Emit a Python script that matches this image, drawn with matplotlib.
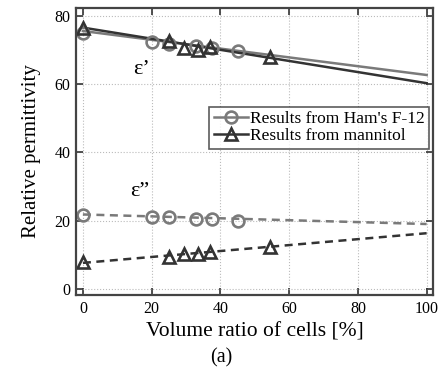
import matplotlib.pyplot as plt
from matplotlib.lines import Line2D

plt.rcParams["font.family"] = ["Liberation Serif", "DejaVu Serif"]

# Ham's F-12 measurements
ham_x = [0, 20, 25, 33, 37.5, 45]
ham_real = [75.0, 72.3, 71.7, 71.2, 70.6, 69.7]
ham_imag = [21.5, 21.2, 21.0, 20.6, 20.4, 20.0]

# mannitol measurements
man_x = [0, 25, 29.5, 33.5, 37, 54.5]
man_real = [76.4, 72.8, 70.6, 70.0, 70.9, 67.9]
man_imag = [8.0, 9.3, 10.3, 10.3, 10.9, 12.4]

# fitted lines (end values at 0 % and 100 %)
fit_x = [0, 100]
ham_real_fit = [75.6, 62.7]
man_real_fit = [76.6, 60.3]
ham_imag_fit = [21.8, 19.0]
man_imag_fit = [7.6, 16.3]

gray = "#7a7a7a"
dark = "#333333"

fig = plt.figure(figsize=(4.43, 3.71), dpi=100)
ax = fig.add_axes([0.1716, 0.205, 0.8054, 0.773])

ax.plot(fit_x, ham_real_fit, color=gray, lw=1.8)
ax.plot(fit_x, man_real_fit, color=dark, lw=1.8)
ax.plot(fit_x, ham_imag_fit, color=gray, lw=1.8, ls=(0, (3.2, 2.2)))
ax.plot(fit_x, man_imag_fit, color=dark, lw=1.8, ls=(0, (3.2, 2.2)))

mk = dict(ls="none", ms=8.5, mew=1.9, mfc="none")
ax.plot(ham_x, ham_real, marker="o", mec=gray, **mk)
ax.plot(ham_x, ham_imag, marker="o", mec=gray, **mk)
ax.plot(man_x, man_real, marker="^", mec=dark, **mk)
ax.plot(man_x, man_imag, marker="^", mec=dark, **mk)

ax.text(17, 64.2, "ε’", fontsize=16, ha="center", va="center")
ax.text(16.5, 28.5, "ε”", fontsize=16, ha="center", va="center")

ax.set_xlim(-2, 101.8)
ax.set_ylim(-1.8, 82.3)
ax.set_xticks([0, 20, 40, 60, 80, 100])
ax.set_yticks([0, 20, 40, 60, 80])
ax.grid(True, ls=":", color="#bbbbbb", lw=0.8)
ax.tick_params(direction="in", top=True, right=True, length=5, width=1.2,
               labelsize=11.5, colors="#333333", labelcolor="black", pad=4)
for s in ax.spines.values():
    s.set_linewidth(1.6)
    s.set_color("#444444")

ax.set_xlabel("Volume ratio of cells [%]", fontsize=15.5, labelpad=4)
ax.set_ylabel("Relative permittivity", fontsize=15, labelpad=10)

handles = [
    Line2D([], [], color=gray, lw=1.8, marker="o", ms=8.5, mew=1.9, mfc="none"),
    Line2D([], [], color=dark, lw=1.8, marker="^", ms=8.5, mew=1.9, mfc="none"),
]
leg = ax.legend(handles, ["Results from Ham's F-12", "Results from mannitol"],
                loc="upper right", bbox_to_anchor=(0.99, 0.656), fontsize=12.5,
                frameon=True, fancybox=False, edgecolor="#333333",
                handlelength=2.0, handletextpad=0.1, borderpad=0.25,
                labelspacing=0.05, borderaxespad=0)
leg.get_frame().set_linewidth(1.2)

fig.text(0.5, 0.035, "(a)", fontsize=14.5, ha="center", va="center")

fig.savefig("out.png", dpi=100)
